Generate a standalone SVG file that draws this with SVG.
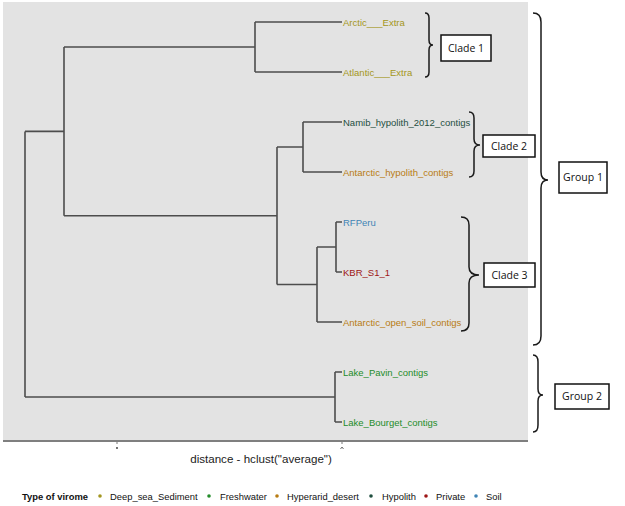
<svg xmlns="http://www.w3.org/2000/svg" width="625" height="506" viewBox="0 0 625 506">
<style>
.tree{fill:none;stroke:#4d4d4d;stroke-width:1.6}
.leaf{font-family:"Liberation Sans",Arial,sans-serif;font-size:9.5px}
.brace{fill:none;stroke:#1a1a1a;stroke-width:1.5}
.box{fill:#ffffff;stroke:#111111;stroke-width:1.5}
.boxt{font-family:"Open Sans","Liberation Sans",sans-serif;font-size:10.5px;fill:#111;text-anchor:middle}
.leg{font-family:"Liberation Sans",Arial,sans-serif;font-size:9.4px;fill:#111}
.deep{fill:#a39620}.fresh{fill:#248c2a}.hyper{fill:#b87c12}.hypo{fill:#1f4f3f}.priv{fill:#9e1515}.soil{fill:#3f84b5}
</style>
<rect x="3" y="2" width="525" height="438" fill="#e3e3e3"/>
<line x1="3" y1="441" x2="528" y2="441" stroke="#555" stroke-width="1.6"/>
<line x1="117" y1="442" x2="117" y2="444" stroke="#555" stroke-width="0.8"/>
<circle cx="117" cy="448" r="0.9" fill="#333"/>
<line x1="342" y1="442" x2="342" y2="444" stroke="#555" stroke-width="0.8"/>
<path d="M340.5 449 L342 447 L343.5 449" fill="none" stroke="#333" stroke-width="0.7"/>

<g id="connectors">
<path class="tree" d="M255 22H342M255 72H342M255 22V72"/>
<path class="tree" d="M303 122H342M303 172H342M303 122V172"/>
<path class="tree" d="M336 222H342M336 272H342M336 222V272"/>
<path class="tree" d="M317 247H336M317 322H342M317 247V322"/>
<path class="tree" d="M277 147H303M277 284.5H317M277 147V284.5"/>
<path class="tree" d="M64 47H255M64 215.8H277M64 47V215.8"/>
<path class="tree" d="M335 372H342M335 422H342M335 372V422"/>
<path class="tree" d="M25 131.4H64M25 397H335M25 131.4V397"/>
</g>

<g id="leaf-arctic"><text class="leaf deep" x="343" y="25.5">Arctic___Extra</text></g>
<g id="leaf-atlantic"><text class="leaf deep" x="343" y="75.5">Atlantic___Extra</text></g>
<g id="leaf-namib"><text class="leaf hypo" x="343" y="125.5">Namib_hypolith_2012_contigs</text></g>
<g id="leaf-antarctic-hypolith"><text class="leaf hyper" x="343" y="175.5">Antarctic_hypolith_contigs</text></g>
<g id="leaf-rfperu"><text class="leaf soil" x="343" y="225.5">RFPeru</text></g>
<g id="leaf-kbr"><text class="leaf priv" x="343" y="275.5">KBR_S1_1</text></g>
<g id="leaf-antarctic-open-soil"><text class="leaf hyper" x="343" y="325.5">Antarctic_open_soil_contigs</text></g>
<g id="leaf-lake-pavin"><text class="leaf fresh" x="343" y="375.5">Lake_Pavin_contigs</text></g>
<g id="leaf-lake-bourget"><text class="leaf fresh" x="343" y="425.5">Lake_Bourget_contigs</text></g>

<g id="clade1">
<path class="brace" d="M425 13Q429 13 429 18V40Q429 45 433 45Q429 45 429 50V72Q429 77 425 77"/>
<rect class="box" x="441" y="35" width="50" height="26"/>
<text class="boxt" x="466" y="51.5">Clade 1</text>
</g>
<g id="clade2">
<path class="brace" d="M469 112Q474 112 474 118V139Q474 145 480 145Q474 145 474 151V171Q474 177 469 177"/>
<rect class="box" x="483" y="135" width="52" height="22"/>
<text class="boxt" x="509" y="149.5">Clade 2</text>
</g>
<g id="clade3">
<path class="brace" d="M461 217Q469 217 469 225V267Q469 275 479 275Q469 275 469 283V323Q469 331 461 331"/>
<rect class="box" x="484" y="263" width="51" height="24"/>
<text class="boxt" x="509.5" y="278.5">Clade 3</text>
</g>
<g id="group1">
<path class="brace" d="M533 13Q541 13 541 22V172Q541 180 548 180Q541 180 541 188V336Q541 345 533 345"/>
<rect class="box" x="559" y="162" width="48" height="31"/>
<text class="boxt" x="583" y="181">Group 1</text>
</g>
<g id="group2">
<path class="brace" d="M533 355Q538 355 538 362V389Q538 395 543 395Q538 395 538 401V425Q538 432 533 432"/>
<rect class="box" x="555" y="384" width="54" height="25"/>
<text class="boxt" x="582" y="400">Group 2</text>
</g>

<g id="axis-label"><text x="261" y="463" font-family="Liberation Sans, Arial, sans-serif" font-size="11.6px" fill="#222" text-anchor="middle">distance - hclust("average")</text></g>

<g id="legend">
<text class="leg" x="22" y="499.5" font-weight="bold" font-size="9.2px">Type of virome</text>
<circle class="deep" cx="100" cy="496" r="1.8"/><text class="leg" x="110" y="499.5">Deep_sea_Sediment</text>
<circle class="fresh" cx="209" cy="496" r="1.8"/><text class="leg" x="220" y="499.5">Freshwater</text>
<circle class="hyper" cx="277" cy="496" r="1.8"/><text class="leg" x="287" y="499.5">Hyperarid_desert</text>
<circle class="hypo" cx="371" cy="496" r="1.8"/><text class="leg" x="382" y="499.5">Hypolith</text>
<circle class="priv" cx="426" cy="496" r="1.8"/><text class="leg" x="436" y="499.5">Private</text>
<circle class="soil" cx="476" cy="496" r="1.8"/><text class="leg" x="486" y="499.5">Soil</text>
</g>
</svg>
